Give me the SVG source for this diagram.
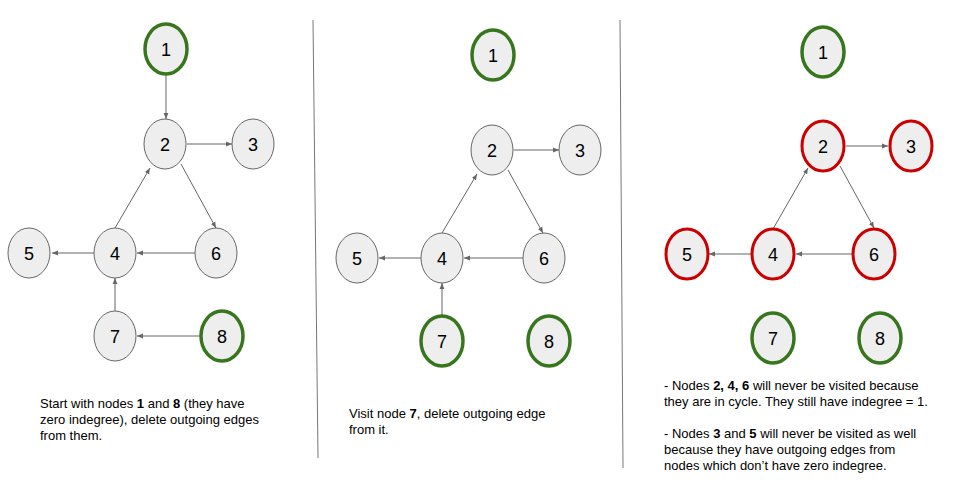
<svg xmlns="http://www.w3.org/2000/svg" width="960" height="480" viewBox="0 0 960 480">
<style>
.n ellipse{fill:#eeeeee;stroke:#666666;stroke-width:1}
.n.g ellipse{stroke:#38761d;stroke-width:3.5}
.n.r ellipse{stroke:#cc0000;stroke-width:3}
.n text{font-family:"Liberation Sans",Arial,sans-serif;font-size:18px;fill:#000;text-anchor:middle}
.e line{stroke:#666666;stroke-width:1;marker-end:url(#ah)}
.d{stroke:#777777;stroke-width:1}
.t{font-family:"Liberation Sans",Arial,sans-serif;font-size:13px;fill:#000}
</style>
<defs>
<marker id="ah" viewBox="0 0 10 10" refX="10" refY="5" markerWidth="6" markerHeight="6" markerUnits="userSpaceOnUse" orient="auto">
<path d="M0,1 L10,5 L0,9 z" fill="#666666"/>
</marker>
</defs>
<rect width="960" height="480" fill="#ffffff"/>
<g id="dividers">
<line class="d" x1="313" y1="20" x2="318" y2="458"/>
<line class="d" x1="620" y1="20" x2="623" y2="468"/>
</g>
<g id="connectors" class="e">
<line x1="166" y1="75" x2="166" y2="119"/>
<line x1="187" y1="144" x2="232" y2="144"/>
<line x1="115" y1="228" x2="150" y2="168"/>
<line x1="181" y1="164" x2="216" y2="228"/>
<line x1="195" y1="253" x2="137" y2="253"/>
<line x1="94" y1="253" x2="52" y2="253"/>
<line x1="115" y1="311" x2="115" y2="278"/>
<line x1="200" y1="336" x2="137" y2="336"/>
<line x1="514" y1="150" x2="559" y2="150"/>
<line x1="442" y1="233" x2="477" y2="174"/>
<line x1="508" y1="170" x2="543" y2="233"/>
<line x1="523" y1="258" x2="464" y2="258"/>
<line x1="421" y1="258" x2="379" y2="258"/>
<line x1="442" y1="316" x2="442" y2="283"/>
<line x1="846" y1="146" x2="888" y2="146"/>
<line x1="773" y1="229" x2="808" y2="168"/>
<line x1="840" y1="166" x2="874" y2="228"/>
<line x1="852" y1="254" x2="796" y2="254"/>
<line x1="751" y1="254" x2="709" y2="254"/>
</g>
<g id="p1n1" class="n g"><ellipse cx="166" cy="49" rx="21" ry="25"/><text x="166" y="55.5">1</text></g>
<g id="p1n2" class="n"><ellipse cx="165" cy="144" rx="21" ry="25"/><text x="165" y="150.5">2</text></g>
<g id="p1n3" class="n"><ellipse cx="253" cy="144" rx="21" ry="25"/><text x="253" y="150.5">3</text></g>
<g id="p1n4" class="n"><ellipse cx="115" cy="253" rx="21" ry="25"/><text x="115" y="259.5">4</text></g>
<g id="p1n5" class="n"><ellipse cx="29" cy="253" rx="21" ry="25"/><text x="29" y="259.5">5</text></g>
<g id="p1n6" class="n"><ellipse cx="216" cy="253" rx="21" ry="25"/><text x="216" y="259.5">6</text></g>
<g id="p1n7" class="n"><ellipse cx="115" cy="336" rx="21" ry="25"/><text x="115" y="342.5">7</text></g>
<g id="p1n8" class="n g"><ellipse cx="222" cy="336" rx="21" ry="25"/><text x="222" y="342.5">8</text></g>
<g id="p2n1" class="n g"><ellipse cx="493" cy="55" rx="21" ry="25"/><text x="493" y="61.5">1</text></g>
<g id="p2n2" class="n"><ellipse cx="492" cy="150" rx="21" ry="25"/><text x="492" y="156.5">2</text></g>
<g id="p2n3" class="n"><ellipse cx="580" cy="150" rx="21" ry="25"/><text x="580" y="156.5">3</text></g>
<g id="p2n4" class="n"><ellipse cx="442" cy="258" rx="21" ry="25"/><text x="442" y="264.5">4</text></g>
<g id="p2n5" class="n"><ellipse cx="357" cy="258" rx="21" ry="25"/><text x="357" y="264.5">5</text></g>
<g id="p2n6" class="n"><ellipse cx="544" cy="258" rx="21" ry="25"/><text x="544" y="264.5">6</text></g>
<g id="p2n7" class="n g"><ellipse cx="442" cy="341" rx="21" ry="25"/><text x="442" y="347.5">7</text></g>
<g id="p2n8" class="n g"><ellipse cx="549" cy="341" rx="21" ry="25"/><text x="549" y="347.5">8</text></g>
<g id="p3n1" class="n g"><ellipse cx="823" cy="52" rx="21" ry="25"/><text x="823" y="58.5">1</text></g>
<g id="p3n2" class="n r"><ellipse cx="823" cy="146" rx="21" ry="25"/><text x="823" y="152.5">2</text></g>
<g id="p3n3" class="n r"><ellipse cx="911" cy="146" rx="21" ry="25"/><text x="911" y="152.5">3</text></g>
<g id="p3n4" class="n r"><ellipse cx="773" cy="254" rx="21" ry="25"/><text x="773" y="260.5">4</text></g>
<g id="p3n5" class="n r"><ellipse cx="687" cy="254" rx="21" ry="25"/><text x="687" y="260.5">5</text></g>
<g id="p3n6" class="n r"><ellipse cx="874" cy="254" rx="21" ry="25"/><text x="874" y="260.5">6</text></g>
<g id="p3n7" class="n g"><ellipse cx="773" cy="338" rx="21" ry="25"/><text x="773" y="344.5">7</text></g>
<g id="p3n8" class="n g"><ellipse cx="880" cy="338" rx="21" ry="25"/><text x="880" y="344.5">8</text></g>
<g id="captions" class="t">
<text x="40" y="408">Start with nodes <tspan font-weight="bold">1</tspan> and <tspan font-weight="bold">8</tspan> (they have</text>
<text x="40" y="424">zero indegree), delete outgoing edges</text>
<text x="40" y="440">from them.</text>
<text x="349" y="418">Visit node <tspan font-weight="bold">7</tspan>, delete outgoing edge</text>
<text x="349" y="434">from it.</text>
<text x="664" y="390">- Nodes <tspan font-weight="bold">2, 4, 6</tspan> will never be visited because</text>
<text x="664" y="406">they are in cycle. They still have indegree = 1.</text>
<text x="664" y="438">- Nodes <tspan font-weight="bold">3</tspan> and <tspan font-weight="bold">5</tspan> will never be visited as well</text>
<text x="664" y="454">because they have outgoing edges from</text>
<text x="664" y="470">nodes which don’t have zero indegree.</text>
</g>
</svg>
